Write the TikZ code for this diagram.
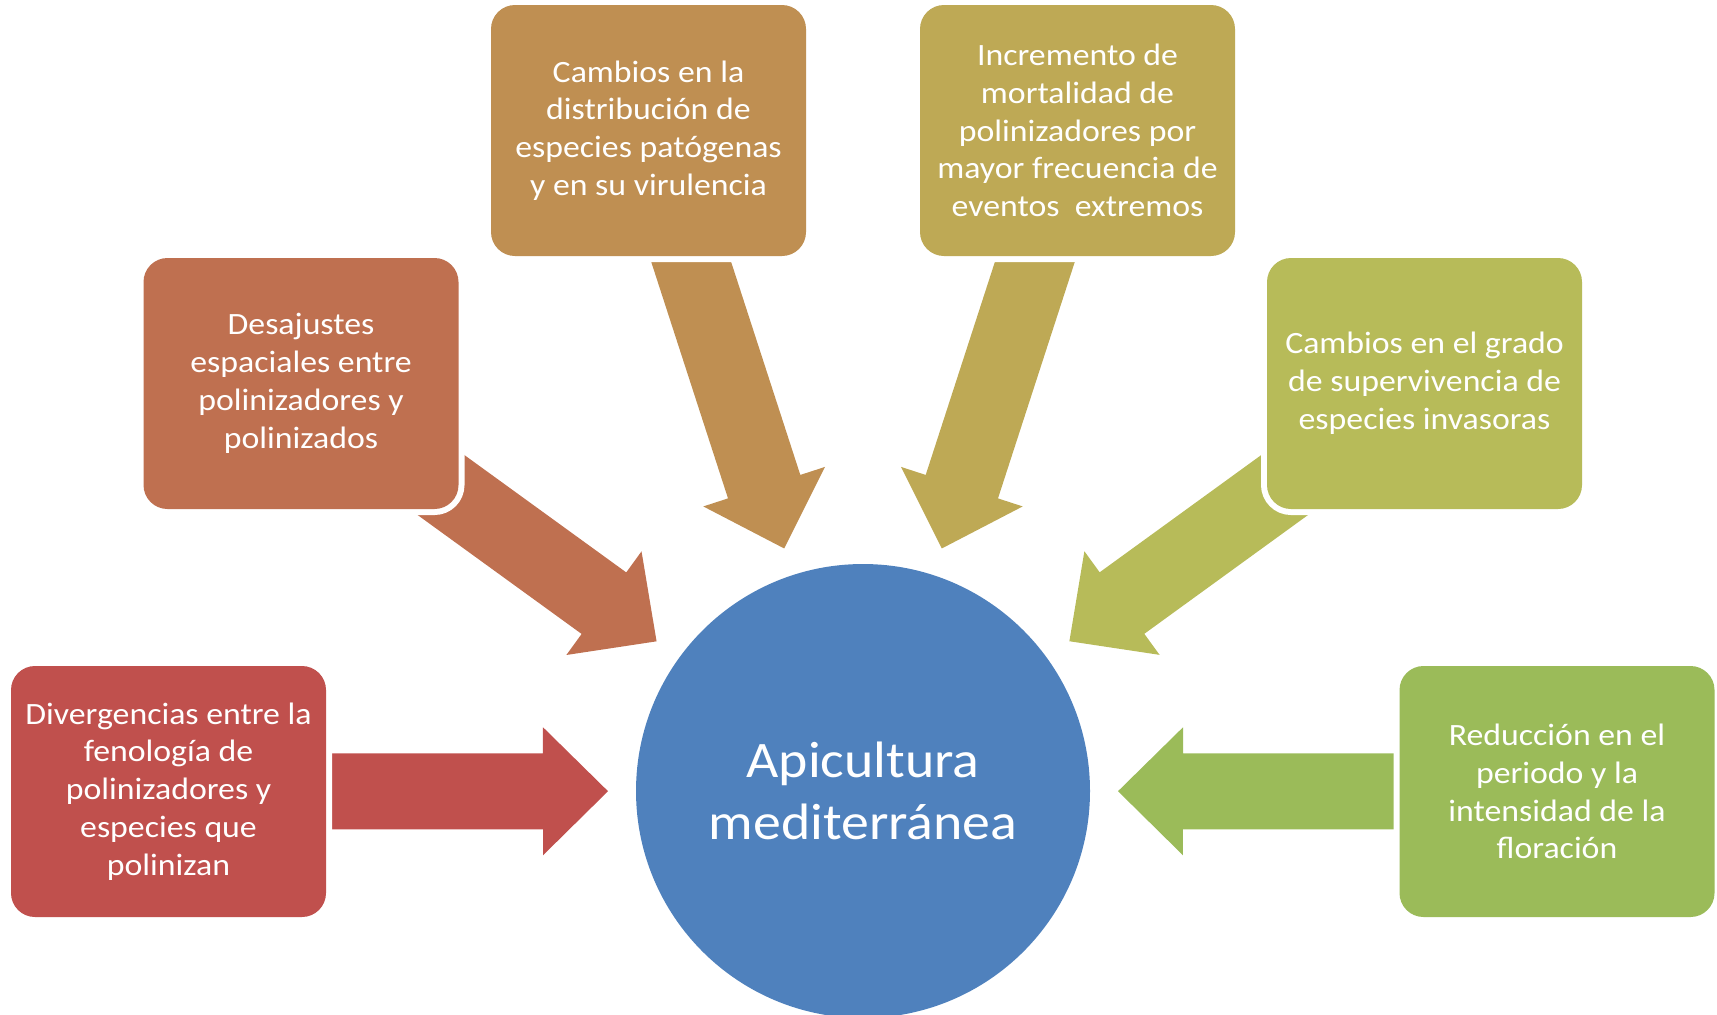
\documentclass[tikz,border=0pt]{standalone}
\usepackage{fontspec}
\setmainfont{Carlito}[FakeStretch=1.09]
\usetikzlibrary{calc,backgrounds}
\definecolor{rojo}{HTML}{C0504D}
\definecolor{teja}{HTML}{BF7050}
\definecolor{ocre}{HTML}{BF8F52}
\definecolor{oliva}{HTML}{BEA955}
\definecolor{pistacho}{HTML}{B7BB59}
\definecolor{verde}{HTML}{9BBB59}
\definecolor{azul}{HTML}{4F81BD}
\newcommand{\ancho}{157.5pt}
\newcommand{\alto}{125.5pt}
\tikzstyle{caja}=[rectangle, rounded corners=12pt, minimum width=\ancho, minimum height=\alto, inner sep=0pt, text=white, align=center, font=\fontsize{15.5}{18.9}\selectfont, preaction={draw=white, line width=6pt}]
\newcommand{\flecha}[2]{%
  \coordinate (t) at ($(A.center)!127.5pt!(#1.center)$);
  \coordinate (h) at ($(t)!32.5pt!(#1.center)$);
  \fill[#2] ($(#1.center)!19pt!90:(t)$) -- ($(h)!19pt!90:(t)$) -- ($(h)!32pt!90:(t)$) -- (t)
    -- ($(h)!32pt!-90:(t)$) -- ($(h)!19pt!-90:(t)$) -- ($(#1.center)!19pt!-90:(t)$) -- cycle;
}

\begin{document}
\begin{tikzpicture}[x=0.5pt,y=-0.5pt]
 \useasboundingbox (0,0) rectangle (1717,1014);

 \node[circle, fill=azul, minimum size=227pt, inner sep=0pt, text=white, align=center, font=\fontsize{25.6}{31.2}\selectfont] (A) at (863,791) {Apicultura\\mediterránea};

 \node[caja, fill=rojo] (B1) at (168.5,791.5) {Divergencias entre la\\fenología de\\polinizadores y\\especies que\\polinizan};
 \node[caja, fill=teja] (B2) at (301,383.5) {Desajustes\\espaciales entre\\polinizadores y\\polinizados};
 \node[caja, fill=ocre] (B3) at (648.5,130.5) {Cambios en la\\distribución de\\especies patógenas\\y en su virulencia};
 \node[caja, fill=oliva] (B4) at (1077.5,130.5) {Incremento de\\mortalidad de\\polinizadores por\\mayor frecuencia de\\eventos\ \ extremos};
 \node[caja, fill=pistacho] (B5) at (1424.5,383.5) {Cambios en el grado\\de supervivencia de\\especies invasoras};
 \node[caja, fill=verde] (B6) at (1557,791.5) {Reducción en el\\periodo y la\\intensidad de la\\floración};

 \begin{scope}[on background layer]
 \foreach \i/\c in {1/rojo,2/teja,3/ocre,4/oliva,5/pistacho,6/verde}{
   \flecha{B\i}{\c}
 }
 \end{scope}

\end{tikzpicture}
\end{document}
